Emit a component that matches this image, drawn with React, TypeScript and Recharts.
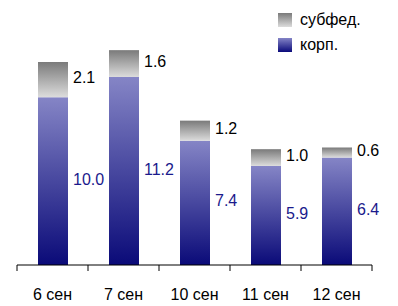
import { BarChart, Bar, XAxis, YAxis, LabelList } from "recharts";

const dates = ["6 сен", "7 сен", "10 сен", "11 сен", "12 сен"];
const korp = [10.0, 11.2, 7.4, 5.9, 6.4];
const subfed = [2.1, 1.6, 1.2, 1.0, 0.6];

const data = dates.map((d, i) => ({ date: d, korp: korp[i], subfed: subfed[i] }));

const FONT = "'Liberation Sans', Arial, sans-serif";
const BAND = 71;

const AxisTick = (props: any) => {
  const { x, y, payload, index } = props;
  const left = x - BAND / 2;
  return (
    <g>
      <line x1={left} y1={y - 8} x2={left} y2={y - 2} stroke="#000" strokeWidth={1} />
      {index === dates.length - 1 && (
        <line x1={x + BAND / 2} y1={y - 8} x2={x + BAND / 2} y2={y - 2} stroke="#000" strokeWidth={1} />
      )}
      <text x={x} y={y + 27} textAnchor="middle" fontSize={16} fontFamily={FONT} fill="#000">
        {payload.value}
      </text>
    </g>
  );
};

const sideLabel = (color: string) => (props: any) => {
  const { x, y, width, height, value } = props;
  return (
    <text
      x={x + width + 5}
      y={y + height / 2 - 2}
      dominantBaseline="central"
      fontSize={16}
      fontFamily={FONT}
      fill={color}
    >
      {Number(value).toFixed(1)}
    </text>
  );
};

const Legend = () => (
  <div style={{ position: "absolute", left: 278, top: 7, fontFamily: FONT, fontSize: 16 }}>
    <div style={{ display: "flex", alignItems: "center", height: 25 }}>
      <span style={{ width: 14, height: 14, marginRight: 8, background: "linear-gradient(#7a7a7a, #dcdcdc)" }} />
      субфед.
    </div>
    <div style={{ display: "flex", alignItems: "center", height: 25 }}>
      <span style={{ width: 14, height: 14, marginRight: 8, background: "linear-gradient(#8484c6, #0a0a7a)" }} />
      корп.
    </div>
  </div>
);

export default function App() {
  return (
    <div style={{ position: "absolute", left: 0, top: 0, width: 398, height: 306, background: "#fff" }}>
      <BarChart width={398} height={306} data={data} margin={{ top: 30, right: 26, left: 17, bottom: 11 }}>
        <defs>
          <linearGradient id="gKorp" x1="0" y1="0" x2="0" y2="1">
            <stop offset="0%" stopColor="#8585c6" />
            <stop offset="100%" stopColor="#0a0a78" />
          </linearGradient>
          <linearGradient id="gSub" x1="0" y1="0" x2="0" y2="1">
            <stop offset="0%" stopColor="#7a7a7a" />
            <stop offset="100%" stopColor="#dcdcdc" />
          </linearGradient>
        </defs>
        <XAxis
          dataKey="date"
          height={30}
          axisLine={{ stroke: "#000" }}
          tickLine={false}
          tick={<AxisTick />}
          interval={0}
        />
        <YAxis hide domain={[0, 14]} />
        <Bar dataKey="korp" stackId="a" fill="url(#gKorp)" barSize={30} isAnimationActive={false}>
          <LabelList dataKey="korp" content={sideLabel("#1a1a8c")} />
        </Bar>
        <Bar dataKey="subfed" stackId="a" fill="url(#gSub)" barSize={30} isAnimationActive={false}>
          <LabelList dataKey="subfed" content={sideLabel("#000")} />
        </Bar>
      </BarChart>
      <Legend />
    </div>
  );
}
